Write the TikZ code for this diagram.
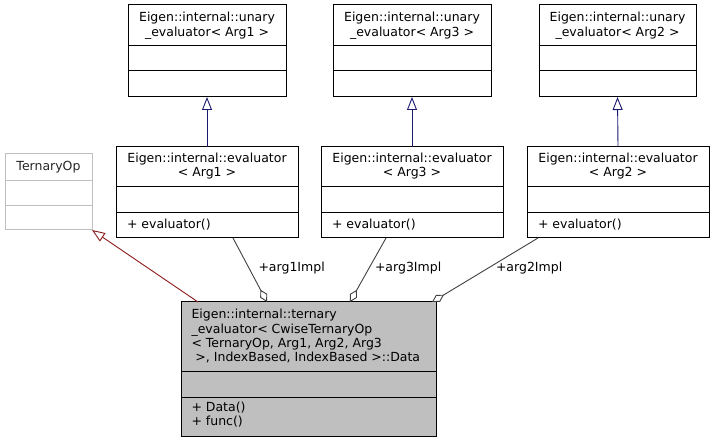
\documentclass[tikz,border=0pt]{standalone}
\usepackage{fontspec}
\setmainfont{DejaVu Sans}
\usetikzlibrary{arrows.meta}
\definecolor{inhblue}{HTML}{191970}
\definecolor{inhred}{HTML}{8B1A1A}
\definecolor{aggc}{HTML}{404040}
\definecolor{mainfill}{HTML}{BFBFBF}
\definecolor{ghost}{HTML}{BFBFBF}
\begin{document}
\begin{tikzpicture}[x=1pt,y=-1pt,
  cls/.style={draw=black, line width=1pt, inner sep=0pt, outer sep=0pt, anchor=north west, fill=white},
  ghostcls/.style={cls, draw=ghost},
  maincls/.style={cls, fill=mainfill},
  sepline/.style={draw=black, line width=1pt},
  ghostsep/.style={draw=ghost, line width=1pt},
  txt/.style={inner sep=0pt, outer sep=0pt, font=\fontsize{12.5}{14}\selectfont},
  inhb/.style={draw=inhblue, line width=0.9pt, -{Triangle[open, length=13pt, width=10pt, fill=white]}},
  inhr/.style={draw=inhred, line width=0.9pt, -{Triangle[open, length=13pt, width=10pt, fill=white]}},
  agg/.style={draw=aggc, line width=0.9pt, {Diamond[open, length=14pt, width=8pt, fill=white]}-},
  lbl/.style={txt, anchor=base west}
]
\useasboundingbox (0,0) rectangle (714,443);

% unary evaluators
\node[cls, minimum width=158pt, minimum height=92pt] (u1) at (128,5) {};
\draw[sepline] (128,46) -- (286,46); \draw[sepline] (128,71) -- (286,71);
\node[txt, anchor=base] (u1a) at (207,21.5) {Eigen::internal::unary};
\node[txt, anchor=base] (u1b) at (207,36.5) {\_evaluator< Arg1 >};

\node[cls, minimum width=158pt, minimum height=92pt] (u3) at (333,5) {};
\draw[sepline] (333,46) -- (491,46); \draw[sepline] (333,71) -- (491,71);
\node[txt, anchor=base] (u3a) at (412,21.5) {Eigen::internal::unary};
\node[txt, anchor=base] (u3b) at (412,36.5) {\_evaluator< Arg3 >};

\node[cls, minimum width=157pt, minimum height=92pt] (u2) at (539,5) {};
\draw[sepline] (539,46) -- (696,46); \draw[sepline] (539,71) -- (696,71);
\node[txt, anchor=base] (u2a) at (617.5,21.5) {Eigen::internal::unary};
\node[txt, anchor=base] (u2b) at (617.5,36.5) {\_evaluator< Arg2 >};

% evaluators
\node[cls, minimum width=182pt, minimum height=91pt] (e1) at (116,147) {};
\draw[sepline] (116,187) -- (298,187); \draw[sepline] (116,213) -- (298,213);
\node[txt, anchor=base] (e1a) at (207,162.7) {Eigen::internal::evaluator};
\node[txt, anchor=base] (e1b) at (207,176.7) {< Arg1 >};
\node[txt, anchor=base west] (e1m) at (127,228.5) {+ evaluator()};

\node[cls, minimum width=182pt, minimum height=91pt] (e3) at (321,147) {};
\draw[sepline] (321,187) -- (503,187); \draw[sepline] (321,213) -- (503,213);
\node[txt, anchor=base] (e3a) at (412,162.7) {Eigen::internal::evaluator};
\node[txt, anchor=base] (e3b) at (412,176.7) {< Arg3 >};
\node[txt, anchor=base west] (e3m) at (332,228.5) {+ evaluator()};

\node[cls, minimum width=182pt, minimum height=91pt] (e2) at (527,147) {};
\draw[sepline] (527,187) -- (709,187); \draw[sepline] (527,213) -- (709,213);
\node[txt, anchor=base] (e2a) at (618,162.7) {Eigen::internal::evaluator};
\node[txt, anchor=base] (e2b) at (618,176.7) {< Arg2 >};
\node[txt, anchor=base west] (e2m) at (538,228.5) {+ evaluator()};

% TernaryOp
\node[ghostcls, minimum width=87pt, minimum height=76pt] (tern) at (5,154) {};
\draw[ghostsep] (5,181) -- (92,181); \draw[ghostsep] (5,206) -- (92,206);
\node[txt, anchor=base, text=black!85] (terna) at (48.5,170.7) {TernaryOp};

% main class
\node[maincls, minimum width=255pt, minimum height=134pt] (main) at (181,302) {};
\draw[sepline] (181,371) -- (436,371); \draw[sepline] (181,397) -- (436,397);
\node[txt, anchor=base west] (m1) at (191.5,319) {Eigen::internal::ternary};
\node[txt, anchor=base west] (m2) at (191.5,333) {\_evaluator< CwiseTernaryOp};
\node[txt, anchor=base west] (m3) at (191.5,347) {< TernaryOp, Arg1, Arg2, Arg3};
\node[txt, anchor=base west] (m4) at (191.5,361) {\ >, IndexBased, IndexBased >::Data};
\node[txt, anchor=base west] (mm1) at (191.5,411) {+ Data()};
\node[txt, anchor=base west] (mm2) at (191.5,425) {+ func()};

% inheritance
\draw[inhb] (e1.north) -- (u1.south);
\draw[inhb] (e3.north) -- (u3.south);
\draw[inhb] (e2.north) -- (u2.south);
\draw[inhr] ([xshift=17pt]main.north west) -- (tern.south east);

% aggregation
\draw[agg] ([xshift=86pt]main.north west) -- ([xshift=26pt]e1.south);
\draw[agg] ([xshift=169pt]main.north west) -- ([xshift=-26pt]e3.south);
\draw[agg] ([xshift=251pt]main.north west) -- ([xshift=-80pt]e2.south);

\node[lbl] (l1) at (258.5,271.7) {+arg1Impl};
\node[lbl] (l3) at (375,271.7) {+arg3Impl};
\node[lbl] (l2) at (496,271.7) {+arg2Impl};
\end{tikzpicture}
\end{document}
